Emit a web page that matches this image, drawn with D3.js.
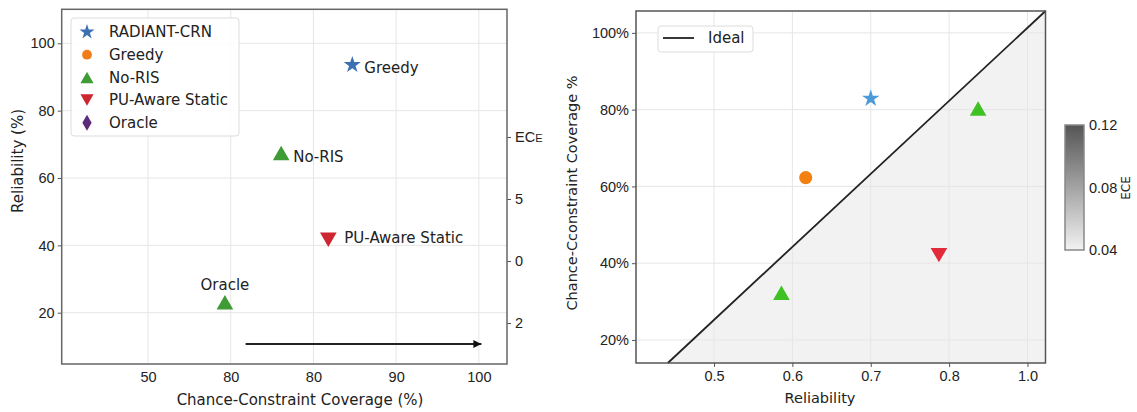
<!DOCTYPE html>
<html>
<head>
<meta charset="utf-8">
<script src="https://cdn.jsdelivr.net/npm/d3@7"></script>
<style>
  body { margin: 0; background: #fff; }
  svg { font-family: "DejaVu Sans", sans-serif; }
  .grid line { stroke: #e6e6e6; stroke-width: 1; }
  .axis path { display: none; }
  .axis line { stroke: #555; }
  .axis text { fill: #222; }
</style>
</head>
<body>
<svg width="1137" height="412"></svg>
<script>

// ---- data: left panel (coverage vs reliability, annotated) ----
var methods = ["RADIANT-CRN", "Greedy", "No-RIS", "PU-Aware Static", "Oracle"];
var methodShapes = ["star", "circle", "triangle", "down", "diamond"];
var methodColors = ["#3b70b3", "#f07d1a", "#3f9b35", "#cc2630", "#5c2b7c"];

var leftLabels = ["Greedy", "No-RIS", "PU-Aware Static", "Oracle"];
var leftCoverage = [84.7, 76.1, 81.8, 69.3];
var leftReliability = [93.6, 67.3, 41.8, 23.0];
var leftShapes = ["star", "triangle", "down", "triangle"];
var leftColors = ["#3b70b3", "#3f9b35", "#cc2630", "#3f9b35"];

var leftXTicks = [60, 70, 80, 90, 100];
var leftXTickLabels = ["50", "80", "80", "90", "100"];
var leftYTicks = [20, 40, 60, 80, 100];
var eceTicks = [0, 1, 2, 3];
var eceTickLabels = ["2", "0", "5", "ECE"];
var arrowX = [71.8, 100.3];
var arrowY = [10.7, 10.7];

// ---- data: right panel (reliability diagram) ----
var rightReliability = [0.700, 0.617, 0.837, 0.586, 0.787];
var rightCoverage = [82.9, 62.3, 80.2, 32.2, 42.2];
var rightShapes = ["star", "circle", "triangle", "triangle", "down"];
var rightColors = ["#4d9ad9", "#f3800f", "#3fc023", "#3fc023", "#e22a3b"];
var rightXTicks = [0.5, 0.6, 0.7, 0.8, 0.9];
var rightXTickLabels = ["0.5", "0.6", "0.7", "0.8", "1.0"];
var rightYTicks = [20, 40, 60, 80, 100];
var idealX = [0.441, 0.923];
var idealY = [14.0, 105.7];
var cbarTicks = [0.04, 0.08, 0.12];

var svg = d3.select("svg");

function symbolPath(shape, size) {
  var t = shape == "star" ? d3.symbolStar : shape == "circle" ? d3.symbolCircle :
          shape == "diamond" ? d3.symbolDiamond : d3.symbolTriangle;
  return d3.symbol().type(t).size(size)();
}
function drawMarker(g, shape, size, color, x, y) {
  var rot = shape == "down" ? " rotate(180)" : "";
  var dy = shape == "triangle" ? 2 : shape == "down" ? -2 : 0;
  g.append("path")
    .attr("d", symbolPath(shape, size))
    .attr("transform", "translate(" + x + "," + (y + dy) + ")" + rot)
    .attr("fill", color);
}

// ================= LEFT PANEL =================
var x1 = d3.scaleLinear().domain([49.57, 103.4]).range([61.7, 507]);
var y1 = d3.scaleLinear().domain([4.77, 110.1]).range([364, 9.3]);
var ece = d3.scaleLinear().domain([0, 3]).range([323, 137]);
var L = svg.append("g");

L.append("g").attr("class", "grid")
  .selectAll("line.v").data(leftXTicks).enter().append("line")
  .attr("x1", function(d) { return x1(d); }).attr("x2", function(d) { return x1(d); })
  .attr("y1", y1.range()[1]).attr("y2", y1.range()[0]);
L.append("g").attr("class", "grid")
  .selectAll("line.h").data(leftYTicks).enter().append("line")
  .attr("y1", function(d) { return y1(d); }).attr("y2", function(d) { return y1(d); })
  .attr("x1", x1.range()[0]).attr("x2", x1.range()[1]);

L.append("g").attr("class", "axis")
  .attr("transform", "translate(0," + y1.range()[0] + ")")
  .call(d3.axisBottom(x1).tickValues(leftXTicks).tickSize(0).tickPadding(8)
    .tickFormat(function(d, i) { return leftXTickLabels[i]; }))
  .selectAll("text").style("font-size", "14.5px");

L.append("g").attr("class", "axis")
  .attr("transform", "translate(" + x1.range()[0] + ",0)")
  .call(d3.axisLeft(y1).tickValues(leftYTicks).tickSize(4).tickPadding(3))
  .selectAll("text").style("font-size", "14.5px");

var eceAxis = L.append("g").attr("class", "axis")
  .attr("transform", "translate(" + x1.range()[1] + ",0)")
  .call(d3.axisRight(ece).tickValues(eceTicks).tickSize(4).tickPadding(4)
    .tickFormat(function(d, i) { return eceTickLabels[i]; }));
eceAxis.selectAll("text").style("font-size", "14.5px");
eceAxis.selectAll("text").filter(function(d, i) { return eceTickLabels[i] == "ECE"; })
  .text(null)
  .call(function(t) {
    t.append("tspan").text("EC");
    t.append("tspan").style("font-size", "11px").text("E");
  });

L.append("rect")
  .attr("x", x1.range()[0]).attr("y", y1.range()[1])
  .attr("width", x1.range()[1] - x1.range()[0]).attr("height", y1.range()[0] - y1.range()[1])
  .attr("fill", "none").attr("stroke", "#666").attr("stroke-width", 1.5);

// arrow
svg.append("defs").append("marker")
  .attr("id", "ah").attr("viewBox", "0 0 10 10").attr("refX", 10).attr("refY", 5)
  .attr("markerWidth", 11).attr("markerHeight", 8).attr("markerUnits", "userSpaceOnUse")
  .attr("orient", "auto")
  .append("path").attr("d", "M0,0L10,5L0,10Z").attr("fill", "#111");
L.append("line")
  .attr("x1", x1(arrowX[0])).attr("x2", x1(arrowX[1]))
  .attr("y1", y1(arrowY[0])).attr("y2", y1(arrowY[1]))
  .attr("stroke", "#222").attr("stroke-width", 2).attr("marker-end", "url(#ah)");

// points and annotations
var labelOffsets = [[12, 3, "start"], [12, 3, "start"], [16, -2, "start"], [0, -18, "middle"]];
leftLabels.forEach(function(lab, i) {
  var px = x1(leftCoverage[i]), py = y1(leftReliability[i]);
  drawMarker(L, leftShapes[i], leftShapes[i] == "star" ? 90 : 120, leftColors[i], px, py);
  L.append("text")
    .attr("x", px + labelOffsets[i][0]).attr("y", py + labelOffsets[i][1])
    .attr("dy", "0.35em").attr("text-anchor", labelOffsets[i][2])
    .style("font-size", "15px").attr("fill", "#222")
    .text(lab);
});

// legend
var leg = L.append("g");
leg.append("rect").attr("x", 71).attr("y", 18).attr("width", 168).attr("height", 118)
  .attr("rx", 3).attr("fill", "#fff").attr("fill-opacity", 0.85)
  .attr("stroke", "#dcdcdc");
methods.forEach(function(m, i) {
  var ly = 32 + i * 22.7;
  drawMarker(leg, methodShapes[i], methodShapes[i] == "star" ? 70 : 75, methodColors[i], 87, ly);
  leg.append("text").attr("x", 109).attr("y", ly).attr("dy", "0.35em")
    .style("font-size", "15px").attr("fill", "#222").text(m);
});

// axis titles
L.append("text")
  .attr("transform", "translate(18,161) rotate(-90)")
  .attr("text-anchor", "middle").attr("dy", "0.35em")
  .style("font-size", "15px").attr("fill", "#222")
  .text("Reliability (%)");
L.append("text")
  .attr("x", 300).attr("y", 400).attr("dy", "0.35em")
  .attr("text-anchor", "middle")
  .style("font-size", "15px").attr("fill", "#222")
  .text("Chance-Constraint Coverage (%)");

// ================= RIGHT PANEL =================
var x2 = d3.scaleLinear().domain([0.4004, 0.923]).range([636, 1045.5]);
var y2 = d3.scaleLinear().domain([14.0, 105.7]).range([363, 11]);
var R = svg.append("g");

// shaded area under ideal line
var shade = [[idealX[0], idealY[0]], [idealX[1], idealY[1]], [idealX[1], idealY[0]]];
R.append("path")
  .attr("d", d3.line().x(function(d) { return x2(d[0]); }).y(function(d) { return y2(d[1]); })(shade) + "Z")
  .attr("fill", "#f2f2f2");

R.append("g").attr("class", "grid")
  .selectAll("line").data(rightXTicks).enter().append("line")
  .attr("x1", function(d) { return x2(d); }).attr("x2", function(d) { return x2(d); })
  .attr("y1", y2.range()[1]).attr("y2", y2.range()[0]);
R.append("g").attr("class", "grid")
  .selectAll("line").data(rightYTicks).enter().append("line")
  .attr("y1", function(d) { return y2(d); }).attr("y2", function(d) { return y2(d); })
  .attr("x1", x2.range()[0]).attr("x2", x2.range()[1]);

R.append("g").attr("class", "axis")
  .attr("transform", "translate(0," + y2.range()[0] + ")")
  .call(d3.axisBottom(x2).tickValues(rightXTicks).tickSize(4).tickPadding(4)
    .tickFormat(function(d, i) { return rightXTickLabels[i]; }))
  .selectAll("text").style("font-size", "14.5px");

R.append("g").attr("class", "axis")
  .attr("transform", "translate(" + x2.range()[0] + ",0)")
  .call(d3.axisLeft(y2).tickValues(rightYTicks).tickSize(4).tickPadding(3)
    .tickFormat(function(d) { return d + "%"; }))
  .selectAll("text").style("font-size", "14.5px");

R.append("path")
  .attr("d", d3.line().x(function(d) { return x2(d); }).y(function(d, i) { return y2(idealY[i]); })(idealX))
  .attr("stroke", "#222").attr("stroke-width", 1.8).attr("fill", "none");

R.append("rect")
  .attr("x", x2.range()[0]).attr("y", y2.range()[1])
  .attr("width", x2.range()[1] - x2.range()[0]).attr("height", y2.range()[0] - y2.range()[1])
  .attr("fill", "none").attr("stroke", "#555").attr("stroke-width", 1.5);

rightReliability.forEach(function(v, i) {
  var s = rightShapes[i];
  drawMarker(R, s, s == "star" ? 95 : s == "circle" ? 135 : 120, rightColors[i], x2(v), y2(rightCoverage[i]));
});

// legend "Ideal"
R.append("rect").attr("x", 658).attr("y", 26).attr("width", 95).attr("height", 26)
  .attr("rx", 3).attr("fill", "#fff").attr("stroke", "#dcdcdc");
R.append("line").attr("x1", 663).attr("x2", 694).attr("y1", 38).attr("y2", 38)
  .attr("stroke", "#222").attr("stroke-width", 1.8);
R.append("text").attr("x", 708).attr("y", 38).attr("dy", "0.35em")
  .style("font-size", "15px").attr("fill", "#222").text("Ideal");

R.append("text")
  .attr("transform", "translate(572,193) rotate(-90)")
  .attr("text-anchor", "middle").attr("dy", "0.35em")
  .style("font-size", "14.5px").attr("fill", "#222")
  .text("Chance-Cconstraint Coverage %");
R.append("text")
  .attr("x", 820).attr("y", 398).attr("dy", "0.35em")
  .attr("text-anchor", "middle")
  .style("font-size", "14.5px").attr("fill", "#222")
  .text("Reliability");

// colorbar
var cb = d3.scaleLinear().domain([0.04, 0.12]).range([250, 125]);
var grad = svg.select("defs").append("linearGradient")
  .attr("id", "cbg").attr("x1", 0).attr("x2", 0).attr("y1", 1).attr("y2", 0);
grad.append("stop").attr("offset", "0%").attr("stop-color", "#f2f2f2");
grad.append("stop").attr("offset", "100%").attr("stop-color", "#555");
svg.append("rect").attr("x", 1065).attr("y", cb.range()[1])
  .attr("width", 19).attr("height", cb.range()[0] - cb.range()[1])
  .attr("fill", "url(#cbg)").attr("stroke", "#888").attr("stroke-width", 1.5);
svg.append("g").attr("class", "axis")
  .attr("transform", "translate(1084,0)")
  .call(d3.axisRight(cb).tickValues(cbarTicks).tickSize(0).tickPadding(5)
    .tickFormat(d3.format(".2f")))
  .selectAll("text").style("font-size", "14.5px");
svg.append("text")
  .attr("transform", "translate(1126,188) rotate(-90)")
  .attr("text-anchor", "middle").attr("dy", "0.35em")
  .style("font-size", "12px").attr("fill", "#222")
  .text("ECE");

</script>
</body>
</html>
